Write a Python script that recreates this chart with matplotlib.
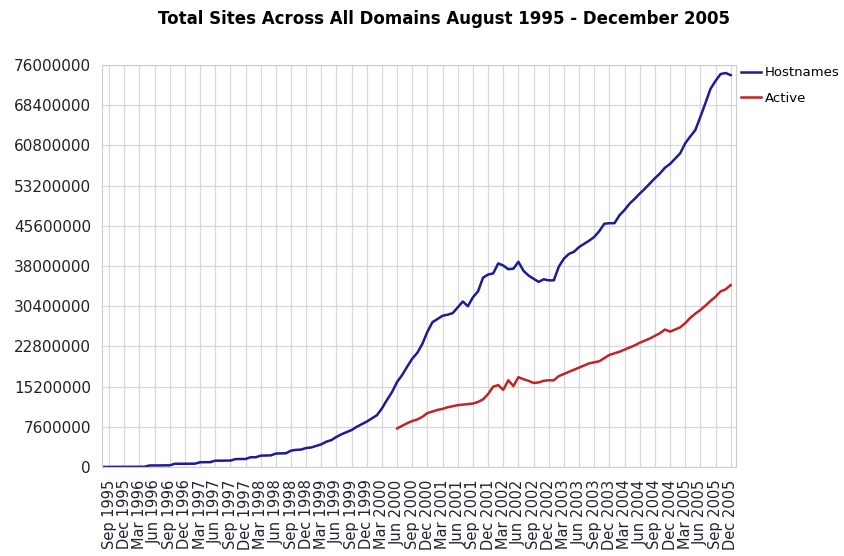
import matplotlib
matplotlib.use("Agg")
import matplotlib.pyplot as plt
import numpy as np

# monthly survey values (millions), Aug 1995 .. Dec 2005
hostnames = [
    0.02, 0.02, 0.03, 0.03, 0.03, 0.04, 0.04, 0.05, 0.05,
    0.30, 0.30, 0.30, 0.32, 0.32,
    0.62, 0.62, 0.63, 0.63, 0.64,
    0.90, 0.92, 0.92,
    1.20, 1.20, 1.22, 1.22,
    1.50, 1.52, 1.52,
    1.85, 1.85,
    2.15, 2.18, 2.20,
    2.55, 2.58, 2.60,
    3.10, 3.25, 3.30,
    3.60, 3.70,
    4.00, 4.30, 4.80, 5.10, 5.70, 6.20,
    6.60, 7.00, 7.60, 8.10, 8.60, 9.20,
    9.80, 11.1, 12.7, 14.2, 16.1, 17.4,
    19.0, 20.5, 21.6, 23.3, 25.6, 27.4,
    28.0, 28.6, 28.8, 29.1, 30.2, 31.3,
    30.4, 32.1, 33.2, 35.8, 36.4, 36.6,
    38.5, 38.1, 37.4, 37.5, 38.8, 37.1,
    36.2, 35.6, 35.0, 35.5, 35.3, 35.3,
    37.9, 39.4, 40.3, 40.7, 41.6, 42.2,
    42.8, 43.5, 44.6, 46.0, 46.1, 46.1,
    47.6, 48.6, 49.8, 50.7, 51.7, 52.6,
    53.6, 54.6, 55.5, 56.6, 57.3, 58.3,
    59.3, 61.2, 62.5, 63.7, 66.2, 68.8,
    71.5, 73.0, 74.3, 74.5, 74.1,
]

# active sites start in Jun 2000 (month 58)
active_start = 58
active = [
    7.3, 7.8, 8.3, 8.7, 9.0, 9.5, 10.2, 10.5, 10.8, 11.0,
    11.3, 11.5, 11.7, 11.8, 11.9, 12.0, 12.3, 12.8, 13.8, 15.2,
    15.5, 14.6, 16.4, 15.3, 17.0, 16.6, 16.3, 15.9, 16.0, 16.3,
    16.4, 16.4, 17.2, 17.6, 18.0, 18.4, 18.8, 19.2, 19.6, 19.8,
    20.0, 20.6, 21.2, 21.5, 21.8, 22.2, 22.6, 23.0, 23.5, 23.9,
    24.3, 24.8, 25.3, 26.0, 25.6, 26.0, 26.4, 27.2, 28.2, 29.0,
    29.7, 30.5, 31.4, 32.2, 33.2, 33.6, 34.4,
]

# quarterly tick labels Sep 1995 .. Dec 2005
tick_months = ["Sep", "Dec", "Mar", "Jun"]
tick_labels = []
for k in range(42):
    m = tick_months[k % 4]
    yr = 1995 + (k + 2) // 4 if k > 1 else 1995
    tick_labels.append(m + " " + str(yr))

y_ticks = np.arange(0, 76000001, 7600000)

x_host = np.arange(len(hostnames))
x_act = np.arange(active_start, active_start + len(active))
host_vals = np.array(hostnames) * 1e6
act_vals = np.array(active) * 1e6

fig = plt.figure(figsize=(8.45, 5.56), dpi=100)
ax = fig.add_axes([0.1207, 0.160, 0.750, 0.723])

ax.plot(x_host, host_vals, color="#1c1c96", lw=1.8, label="Hostnames")
ax.plot(x_act, act_vals, color="#c02424", lw=1.8, label="Active")

ax.set_xlim(-0.4, 125)
ax.set_ylim(0, 76000000)
ax.set_yticks(y_ticks)
ax.set_yticklabels([str(v) for v in y_ticks], fontsize=11, color="#222222")
ax.set_xticks(np.arange(1, 125, 3))
ax.set_xticklabels(tick_labels, rotation=90, fontsize=10.5, color="#222233")
ax.tick_params(axis="y", length=0, pad=8)
ax.tick_params(axis="x", length=0, pad=9)
ax.grid(True, color="#d8d8d8", lw=0.9)
ax.set_axisbelow(True)
for s in ax.spines.values():
    s.set_color("#cccccc")

fig.suptitle("Total Sites Across All Domains August 1995 - December 2005",
             x=0.525, y=0.982, fontsize=12, fontweight="bold")

leg = ax.legend(loc="upper left", bbox_to_anchor=(1.0, 1.01), frameon=False,
                fontsize=9.5, handlelength=1.5, handletextpad=0.3,
                labelspacing=0.95, borderaxespad=0.2, borderpad=0.2)

fig.savefig("out.png", dpi=100)
